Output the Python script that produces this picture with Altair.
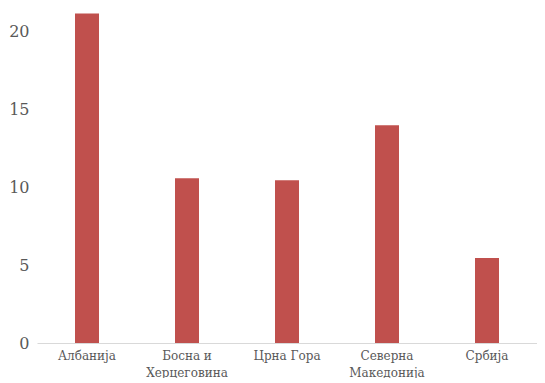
import altair as alt
import pandas as pd

countries = ["Албанија", "Босна и\nХерцеговина", "Црна Гора", "Северна\nМакедонија", "Србија"]
values = [21.15, 10.58, 10.45, 13.97, 5.45]

df = pd.DataFrame({"country": countries, "value": values})

FONT = "DejaVu Serif"

chart = alt.Chart(df).mark_bar(size=24, color="#C0504D").encode(
    x=alt.X("country:N", sort=countries, title=None,
            scale=alt.Scale(paddingInner=0, paddingOuter=0),
            axis=alt.Axis(labelAngle=0, labelFont=FONT, labelFontSize=12,
                          labelColor="#595959", ticks=False, domainColor="#D9D9D9",
                          domainWidth=1, labelPadding=7, labelLineHeight=17,
                          labelExpr="split(datum.label, '\\n')")),
    y=alt.Y("value:Q", title=None,
            scale=alt.Scale(domain=[0, 21.5], nice=False),
            axis=alt.Axis(values=[0, 5, 10, 15, 20], grid=False, domain=False, ticks=False,
                          labelFont=FONT, labelFontSize=16,
                          labelColor="#595959", labelPadding=8)),
).properties(
    width=500, height=335,
    padding={"left": 0, "top": 0, "right": 0, "bottom": 0},
).configure_view(stroke=None)

chart.save("out.html", embed_options={"renderer": "svg", "actions": False})
